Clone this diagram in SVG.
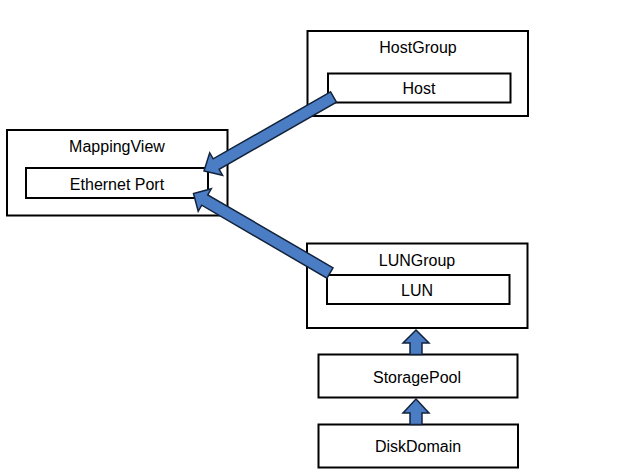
<svg xmlns="http://www.w3.org/2000/svg" width="635" height="474" viewBox="0 0 635 474">
<style>
.box{fill:#fff;stroke:#000;stroke-width:2}
.lbl{font-family:"Liberation Sans",Arial,sans-serif;font-size:16px;fill:#000;text-anchor:middle}
.arr{fill:#4a7dc4;stroke:#14233c;stroke-width:1.5;stroke-linejoin:miter}
</style>
<rect width="635" height="474" fill="#fff"/>
<g id="hostgroup">
<rect class="box" x="307.5" y="31" width="220.5" height="85"/>
<text class="lbl" x="418" y="52.5">HostGroup</text>
</g>
<g id="host">
<rect class="box" x="328" y="73.5" width="182.5" height="29"/>
<text class="lbl" x="419" y="94">Host</text>
</g>
<g id="mappingview">
<rect class="box" x="7" y="130" width="220.5" height="85.5"/>
<text class="lbl" x="117" y="152">MappingView</text>
</g>
<g id="ethernetport">
<rect class="box" x="26" y="168" width="182" height="30"/>
<text class="lbl" x="117" y="190">Ethernet Port</text>
</g>
<g id="lungroup">
<rect class="box" x="307" y="243.5" width="220.5" height="84.5"/>
<text class="lbl" x="417" y="265.5">LUNGroup</text>
</g>
<g id="lun">
<rect class="box" x="327" y="275" width="182.5" height="29"/>
<text class="lbl" x="417" y="295.5">LUN</text>
</g>
<g id="storagepool">
<rect class="box" x="318.5" y="354.5" width="199" height="43"/>
<text class="lbl" x="417" y="383">StoragePool</text>
</g>
<g id="diskdomain">
<rect class="box" x="318.5" y="424.5" width="199.5" height="43"/>
<text class="lbl" x="418" y="452">DiskDomain</text>
</g>
<g id="connectors">
<polygon class="arr" points="330.52,91.79 213.17,158.85 209.70,152.78 204,171 222.60,175.34 219.13,169.27 336.48,102.21"/>
<polygon class="arr" points="333.02,267.82 207.75,194.86 211.27,188.81 193.5,193.5 198.19,211.27 201.71,205.22 326.98,278.18"/>
<polygon class="arr" points="416,330 429,343 422,343 422,354.5 410,354.5 410,343 403,343"/>
<polygon class="arr" points="416,399 429,413 422,413 422,424.5 410,424.5 410,413 403,413"/>
</g>
</svg>
